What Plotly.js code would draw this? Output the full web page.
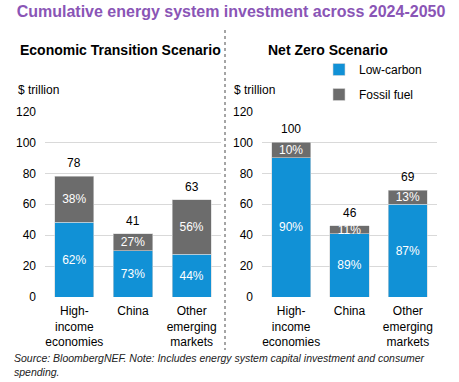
<!DOCTYPE html>
<html>
<head>
<meta charset="utf-8">
<script src="https://cdn.plot.ly/plotly-3.0.1.min.js"></script>
<style>html,body{margin:0;padding:0;background:#fff;}#chart{width:459px;height:382px;}</style>
</head>
<body>
<div id="chart"></div>
<script>
// ---- Data ----
const categories = ["High-<br>income<br>economies", "China", "Other<br>emerging<br>markets"];
const etsTotals = [78, 41, 63];
const etsLowPct = [62, 73, 44];
const etsFossilPct = [38, 27, 56];
const nzsTotals = [100, 46, 69];
const nzsLowPct = [90, 89, 87];
const nzsFossilPct = [10, 11, 13];
const seriesNames = ["Low-carbon", "Fossil fuel"];

const W = 459, H = 382;
const px = v => v / W;
const py = v => 1 - v / H;

const BLUE = "#1191D6", GREY = "#6C6C6C";
const FONT = "Arial, 'Liberation Sans', sans-serif";

const part = (tot, pct) => tot.map((t, i) => t * pct[i] / 100);
const pctText = pct => pct.map(p => p + "%");

function barTrace(name, xa, ya, vals, pct, color, showLeg, group) {
  return {
    type: "bar", name: name, x: categories, y: vals, xaxis: xa, yaxis: ya,
    marker: {color: color, line: {color: "#d6d6d6", width: 0.6}},
    text: pctText(pct), textposition: "inside", insidetextanchor: "middle",
    constraintext: "none", textangle: 0,
    textfont: {color: "#ffffff", size: 12, family: FONT},
    hoverinfo: "skip", showlegend: showLeg, legendgroup: group
  };
}

const data = [
  barTrace(seriesNames[0], "x", "y", part(etsTotals, etsLowPct), etsLowPct, BLUE, true, "low"),
  barTrace(seriesNames[1], "x", "y", part(etsTotals, etsFossilPct), etsFossilPct, GREY, true, "fossil"),
  barTrace(seriesNames[0], "x2", "y2", part(nzsTotals, nzsLowPct), nzsLowPct, BLUE, false, "low"),
  barTrace(seriesNames[1], "x2", "y2", part(nzsTotals, nzsFossilPct), nzsFossilPct, GREY, false, "fossil")
];

const annotations = [];
etsTotals.forEach((t, i) => annotations.push({
  x: categories[i], y: t, xref: "x", yref: "y", text: String(t), showarrow: false,
  yanchor: "bottom", yshift: 4, font: {size: 12, color: "#000", family: FONT}
}));
nzsTotals.forEach((t, i) => annotations.push({
  x: categories[i], y: t, xref: "x2", yref: "y2", text: String(t), showarrow: false,
  yanchor: "bottom", yshift: 4, font: {size: 12, color: "#000", family: FONT}
}));
// panel subtitles & units
annotations.push({xref: "paper", yref: "paper", x: px(120), y: py(50), text: "<b>Economic Transition Scenario</b>",
  showarrow: false, xanchor: "center", yanchor: "middle", font: {size: 14, color: "#000", family: FONT}});
annotations.push({xref: "paper", yref: "paper", x: px(328), y: py(50), text: "<b>Net Zero Scenario</b>",
  showarrow: false, xanchor: "center", yanchor: "middle", font: {size: 14, color: "#000", family: FONT}});
annotations.push({xref: "paper", yref: "paper", x: px(16), y: py(90), text: "$ trillion",
  showarrow: false, xanchor: "left", yanchor: "middle", font: {size: 12, color: "#000", family: FONT}});
annotations.push({xref: "paper", yref: "paper", x: px(232), y: py(90), text: "$ trillion",
  showarrow: false, xanchor: "left", yanchor: "middle", font: {size: 12, color: "#000", family: FONT}});
// source
annotations.push({xref: "paper", yref: "paper", x: px(12), y: py(350), align: "left",
  text: "<i>Source: BloombergNEF. Note: Includes energy system capital investment and consumer<br>spending.</i>",
  showarrow: false, xanchor: "left", yanchor: "top", font: {size: 10.5, color: "#222", family: FONT}});

const yax = {
  range: [0, 120], dtick: 20, showgrid: true, gridcolor: "#d9d9d9", gridwidth: 1,
  zeroline: false, showline: false, ticks: "", ticklabelstandoff: 8,
  tickfont: {size: 12, color: "#000", family: FONT}, fixedrange: true,
  domain: [(H - 297) / H, (H - 111.5) / H]
};
const xax = {
  showgrid: false, zeroline: false, showline: false, ticks: "", ticklabelstandoff: 5,
  tickfont: {size: 12, color: "#000", family: FONT}, fixedrange: true
};

const layout = {
  width: W, height: H,
  margin: {l: 0, r: 0, t: 0, b: 0},
  paper_bgcolor: "#fff", plot_bgcolor: "rgba(0,0,0,0)",
  font: {family: FONT, color: "#000"},
  title: {text: "<b>Cumulative energy system investment across 2024-2050</b>",
    x: px(231), xanchor: "center", y: py(11), yanchor: "middle",
    font: {size: 16, color: "#8A55B6", family: FONT}},
  barmode: "stack", bargap: 0.33,
  xaxis: Object.assign({}, xax, {domain: [px(45), px(221)], anchor: "y"}),
  yaxis: Object.assign({}, yax, {anchor: "x"}),
  xaxis2: Object.assign({}, xax, {domain: [px(262), px(437)], anchor: "y2"}),
  yaxis2: Object.assign({}, yax, {anchor: "x2"}),
  showlegend: true,
  legend: {x: px(319), y: py(55), xanchor: "left", yanchor: "top",
    traceorder: "grouped", tracegroupgap: 6, bgcolor: "rgba(0,0,0,0)",
    font: {size: 12, color: "#000", family: FONT}, itemwidth: 30},
  shapes: [{type: "line", xref: "paper", yref: "paper", x0: px(225), x1: px(225), y0: py(30), y1: py(350),
    line: {color: "#888", width: 1.5, dash: "dot"}}],
  annotations: annotations
};

Plotly.newPlot("chart", data, layout, {displayModeBar: false, staticPlot: true});
</script>
</body>
</html>
